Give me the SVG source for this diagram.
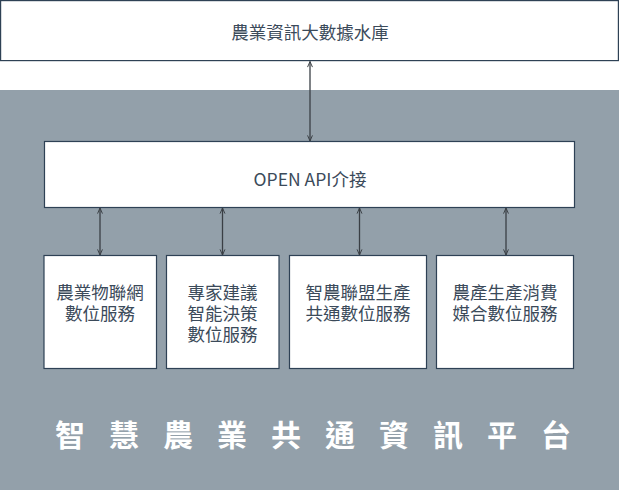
<svg xmlns="http://www.w3.org/2000/svg" width="619" height="490" viewBox="0 0 619 490">
<style>
.box{fill:#ffffff;stroke:#2e4155;stroke-width:1.2}
.t{font-family:"Noto Sans CJK TC","Noto Sans",sans-serif;font-size:17.5px;fill:#3b4a5a;text-anchor:middle}
.cn{stroke:#3a3f45;stroke-width:1.3;fill:none;marker-start:url(#ah);marker-end:url(#ah)}
.title{font-family:"Noto Sans CJK TC","Noto Sans",sans-serif;font-size:30px;font-weight:bold;fill:#ffffff;letter-spacing:24px}
</style>
<defs>
<marker id="ah" viewBox="0 0 10 10" refX="9" refY="5" markerWidth="7" markerHeight="7" orient="auto-start-reverse" markerUnits="userSpaceOnUse">
<path d="M1,1.5 L9,5 L1,8.5" fill="none" stroke="#3a3f45" stroke-width="1.4"/>
</marker>
</defs>
<rect x="0" y="0" width="619" height="490" fill="#ffffff"/>
<rect x="0" y="90" width="619" height="400" fill="#93a0aa"/>
<g id="lake">
<rect class="box" x="0.6" y="0.6" width="617.8" height="60"/>
<text class="t" x="310" y="39">農業資訊大數據水庫</text>
</g>
<g id="api">
<rect class="box" x="44.5" y="141.5" width="530" height="66"/>
<text class="t" x="310" y="186">OPEN API介接</text>
</g>
<g id="iot">
<rect class="box" x="44" y="255.5" width="112.5" height="113"/>
<text class="t" x="100" y="299">農業物聯網</text>
<text class="t" x="100" y="320">數位服務</text>
</g>
<g id="expert">
<rect class="box" x="166.5" y="255.5" width="112.5" height="113"/>
<text class="t" x="222.5" y="299">專家建議</text>
<text class="t" x="222.5" y="320">智能決策</text>
<text class="t" x="222.5" y="341">數位服務</text>
</g>
<g id="alliance">
<rect class="box" x="289.5" y="255.5" width="137" height="113"/>
<text class="t" x="358" y="299">智農聯盟生產</text>
<text class="t" x="358" y="320">共通數位服務</text>
</g>
<g id="market">
<rect class="box" x="436.5" y="255.5" width="137" height="113"/>
<text class="t" x="505" y="299">農產生產消費</text>
<text class="t" x="505" y="320">媒合數位服務</text>
</g>
<g id="connectors">
<line class="cn" x1="310" y1="61.5" x2="310" y2="141"/>
<line class="cn" x1="100" y1="208" x2="100" y2="255"/>
<line class="cn" x1="222.5" y1="208" x2="222.5" y2="255"/>
<line class="cn" x1="359.5" y1="208" x2="359.5" y2="255"/>
<line class="cn" x1="506" y1="208" x2="506" y2="255"/>
</g>
<text class="title" x="55" y="446">智慧農業共通資訊平台</text>
</svg>
